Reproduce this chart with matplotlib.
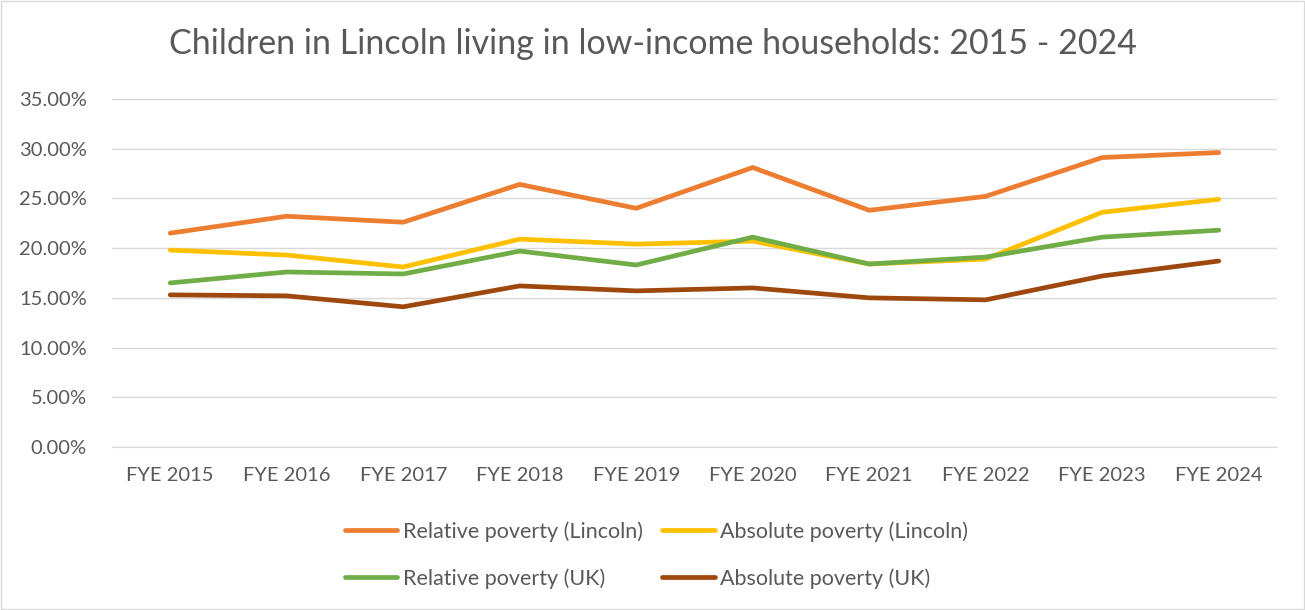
import matplotlib
matplotlib.use("Agg")
import matplotlib.pyplot as plt
from matplotlib.ticker import FuncFormatter, MultipleLocator

years = ["FYE 2015", "FYE 2016", "FYE 2017", "FYE 2018", "FYE 2019",
         "FYE 2020", "FYE 2021", "FYE 2022", "FYE 2023", "FYE 2024"]
rel_lincoln = [21.5, 23.2, 22.6, 26.4, 24.0, 28.1, 23.8, 25.2, 29.1, 29.6]
abs_lincoln = [19.8, 19.3, 18.1, 20.9, 20.4, 20.7, 18.4, 18.9, 23.6, 24.9]
rel_uk = [16.5, 17.6, 17.4, 19.7, 18.3, 21.1, 18.4, 19.1, 21.1, 21.8]
abs_uk = [15.3, 15.2, 14.1, 16.2, 15.7, 16.0, 15.0, 14.8, 17.2, 18.7]

series = [
    ("Relative poverty (Lincoln)", rel_lincoln, "#ED7D31"),
    ("Absolute poverty (Lincoln)", abs_lincoln, "#FFC000"),
    ("Relative poverty (UK)", rel_uk, "#70AD47"),
    ("Absolute poverty (UK)", abs_uk, "#9E480E"),
]

plt.rcParams['font.family'] = ['Lato', 'DejaVu Sans']

fig = plt.figure(figsize=(13.05, 6.10), dpi=100)
ax = fig.add_axes([0.0858, 0.267, 0.8927, 0.571])

x = list(range(len(years)))
lines = {}
for label, vals, color in series:
    ln, = ax.plot(x, vals, color=color, lw=3.4, label=label, solid_capstyle='round')
    lines[label] = ln

ax.set_xlim(-0.5, len(years) - 0.5)
ax.set_ylim(0, 35)
ax.yaxis.set_major_locator(MultipleLocator(5))
ax.yaxis.set_major_formatter(FuncFormatter(lambda v, p: f"{v:.2f}%"))
ax.set_xticks(x)
ax.set_xticklabels(years)
ax.grid(axis='y', color='#D9D9D9', lw=1)
ax.set_axisbelow(True)
for s in ['top', 'right', 'left']:
    ax.spines[s].set_visible(False)
ax.spines['bottom'].set_color('#D9D9D9')
ax.tick_params(axis='both', length=0, labelsize=14.5, colors='#595959')
ax.tick_params(axis='x', pad=14)
ax.tick_params(axis='y', pad=18)

fig.text(0.5, 0.928, "Children in Lincoln living in low-income households: 2015 - 2024",
         ha='center', va='center', fontsize=24.5, color='#595959')

order = [series[0][0], series[2][0], series[1][0], series[3][0]]
leg = fig.legend([lines[k] for k in order], order, loc='center',
                 bbox_to_anchor=(0.503, 0.09), ncol=2, frameon=False,
                 fontsize=15.5, handlelength=2.45, handletextpad=0.25,
                 columnspacing=0.9, labelspacing=1.22)
for t in leg.get_texts():
    t.set_color('#595959')

fig.patches.append(plt.Rectangle((0.0008, 0.0016), 0.9984, 0.9968, transform=fig.transFigure,
                                 fill=False, edgecolor='#D9D9D9', lw=1))

fig.savefig("out.png", dpi=100, facecolor='white')
